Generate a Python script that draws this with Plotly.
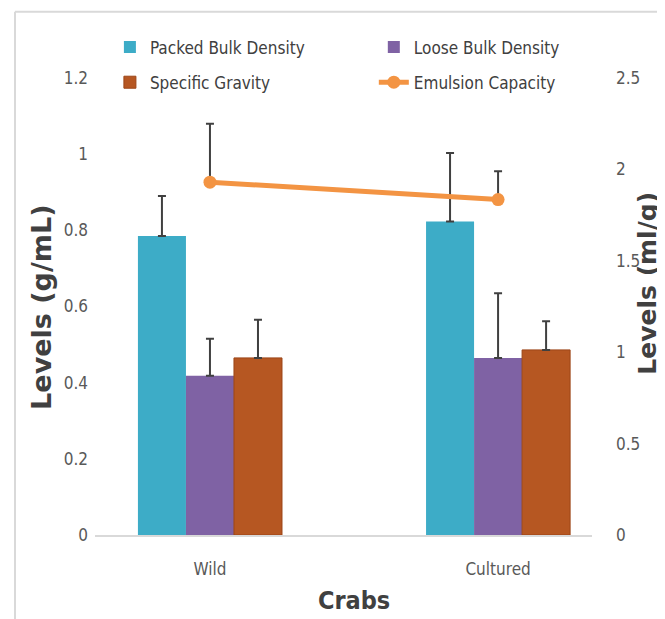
import plotly.graph_objects as go

categories = ["Wild", "Cultured"]
packed = [0.785, 0.823]
packed_err = [0.105, 0.18]
loose = [0.418, 0.465]
loose_err = [0.097, 0.17]
sg = [0.465, 0.486]
sg_err = [0.10, 0.075]
emulsion = [1.93, 1.835]
emulsion_err = [0.32, 0.155]

FONT = "DejaVu Sans Condensed, Liberation Sans Narrow, sans-serif"
ERRC = "#404040"
TITLEC = "#404040"

fig = go.Figure()

def err(vals):
    return dict(type="data", array=vals, symmetric=False, arrayminus=[0, 0],
                color=ERRC, thickness=2, width=4)

fig.add_trace(go.Bar(x=categories, y=packed, name="Packed Bulk Density",
                     marker=dict(color="#3DACC7", line=dict(width=0)),
                     error_y=err(packed_err), legend="legend", legendgroup="a"))
fig.add_trace(go.Bar(x=categories, y=loose, name="Loose Bulk Density",
                     marker=dict(color="#7F62A4", line=dict(width=0)),
                     error_y=err(loose_err), legend="legend2", legendgroup="b"))
fig.add_trace(go.Bar(x=categories, y=sg, name="Specific Gravity",
                     marker=dict(color="#B65722", line=dict(color="#9C4516", width=1)),
                     error_y=err(sg_err), legend="legend", legendgroup="c"))
fig.add_trace(go.Scatter(x=categories, y=emulsion, name="Emulsion Capacity",
                         mode="lines+markers", yaxis="y2",
                         line=dict(color="#F39443", width=5),
                         marker=dict(color="#F39443", size=13),
                         error_y=err(emulsion_err), legend="legend2", legendgroup="d"))

legend_common = dict(orientation="v", yanchor="top", xanchor="left",
                     font=dict(family=FONT, size=17, color="#404040"),
                     bgcolor="rgba(0,0,0,0)", tracegroupgap=10, itemwidth=30)

TICKFONT = dict(family=FONT, size=17, color="#595959")

fig.update_layout(
    width=665, height=619,
    margin=dict(l=87, r=81, t=70, b=92),
    paper_bgcolor="white", plot_bgcolor="white",
    barmode="group", bargap=0.5, bargroupgap=0,
    font=dict(family=FONT, color="#595959"),
    xaxis=dict(range=[-0.399, 1.326], showgrid=False, showline=True,
               linecolor="#D9D9D9", linewidth=2, ticks="",
               tickfont=TICKFONT, ticklabelstandoff=18),
    yaxis=dict(range=[0, 1.2], tickvals=[0, 0.2, 0.4, 0.6, 0.8, 1, 1.2],
               ticktext=["0", "0.2", "0.4", "0.6", "0.8", "1", "1.2"],
               showgrid=False, zeroline=False, showline=False,
               tickfont=TICKFONT, ticklen=0, ticklabelstandoff=6),
    yaxis2=dict(range=[0, 2.5], tickvals=[0, 0.5, 1, 1.5, 2, 2.5],
                ticktext=["0", "0.5", "1", "1.5", "2", "2.5"],
                overlaying="y", side="right", showgrid=False, zeroline=False,
                showline=False, tickfont=TICKFONT, ticklen=0, ticklabelstandoff=23),
    legend=dict(x=0.030, y=1.106, **legend_common),
    legend2=dict(x=0.561, y=1.106, **legend_common),
    showlegend=True,
    annotations=[
        dict(text="<b>Levels (g/mL)</b>", textangle=-90, xref="paper", yref="paper",
             x=-0.1066, y=0.497, xanchor="center", yanchor="middle", showarrow=False,
             font=dict(family="DejaVu Sans, sans-serif", size=27, color=TITLEC)),
        dict(text="<b>Levels (ml/g)</b>", textangle=-90, xref="paper", yref="paper",
             x=1.1127, y=0.55, xanchor="center", yanchor="middle", showarrow=False,
             font=dict(family="DejaVu Sans, sans-serif", size=25, color=TITLEC)),
        dict(text="<b>Crabs</b>", xref="paper", yref="paper",
             x=0.521, y=-0.143, xanchor="center", yanchor="middle", showarrow=False,
             font=dict(family="DejaVu Sans Condensed, sans-serif", size=25, color=TITLEC)),
    ],
    shapes=[dict(type="line", xref="paper", yref="paper", x0=-0.161, x1=1.2,
                 y0=1.145, y1=1.145, line=dict(color="#D9D9D9", width=2)),
            dict(type="line", xref="paper", yref="paper", x0=-0.161, x1=-0.161,
                 y0=1.145, y1=-0.2, line=dict(color="#D9D9D9", width=2))],
)

fig.write_html("out.html")
